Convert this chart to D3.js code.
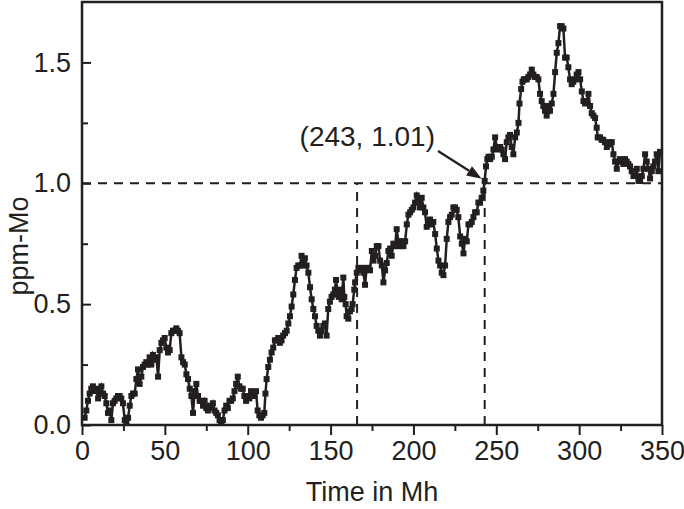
<!DOCTYPE html>
<html><head><meta charset="utf-8">
<script src="https://cdn.jsdelivr.net/npm/d3@7"></script>
<style>
body{margin:0;background:#fff}
svg{display:block}
text{font-family:"Liberation Sans",Arial,Helvetica,sans-serif;fill:#231f20}
</style></head>
<body><svg id="c" width="684" height="509"></svg>
<script>
// ---- data ----
const time = [1.6,2.6,3.6,4.6,5.6,6.6,7.6,8.6,9.7,10.7,11.7,12.7,13.7,14.7,15.7,16.7,17.7,18.7,19.7,20.7,21.7,22.7,23.7,24.7,25.8,26.8,27.8,28.8,29.8,30.8,31.8,32.8,33.8,34.8,35.8,36.8,37.8,38.8,39.8,40.8,41.8,42.8,43.9,44.9,45.9,46.9,47.9,48.9,49.9,50.9,51.9,52.9,53.9,54.9,55.9,56.9,
57.9,58.9,60,61,62,63,64,65,66,67,68,69,70,71,72,73,74,75,76,77,78,79,80,81,82,83,84,85,86,87,88,89,90,91,92,93,94,95,96,97,98,99,100,101,102,103,104,105,106,107,108,109,110,110.7,111.4,112.4,113.4,114.4,
115.4,116.4,117.4,118.4,119.4,120.4,121.4,122.5,123.5,124.5,125.5,126.5,127.5,128.5,129.5,130.5,131.5,132.5,133.5,134.5,135.5,136.6,137.6,138.6,139.6,140.6,141.6,142.6,143.6,144.6,145.6,146.6,147.6,148.6,149.6,150.6,151.6,152.6,153.3,154.3,155,155.7,156.7,157.7,158.3,159.1,159.7,160.7,161.7,162.7,163.3,164.3,164.8,
165.8,166.8,167.8,168.8,169.8,170.8,171.8,172.8,173.8,174.9,175.9,176.9,177.9,178.9,179.9,180.9,181.9,182.9,183.9,184.9,185.9,186.9,187.9,188.9,189.9,190.9,191.9,192.9,194,195,196,197,198,199,200,201,202,203,204,205,206,207,208,209,210,211,212,213.1,214.1,215.1,216.1,217.1,218.1,219.1,220.1,221.1,222.1,223.1,224.1,
225.1,226.1,227.1,228.2,229.2,230.2,231.2,232.2,233.2,234.2,235.2,236.2,237.2,238.2,239.2,240.2,241.2,242.2,243,243.8,244.6,245.3,246.3,247.3,248.3,249.3,250.3,251.3,252.3,253.3,254.3,255.3,256.3,257.3,258.3,259.3,260.3,261.4,262.4,263.4,264,265,265.8,266.6,267.4,268.4,269.4,270.4,271.4,272.4,273.4,
274.4,275.4,276.4,277.4,278.4,279.4,280.4,281.4,282.4,283.5,284.5,285.5,286.5,287.5,288.5,289.5,290.5,291.5,292.5,293.5,294.5,295.5,296.5,297.5,298.5,299.6,300.6,301.6,302.6,303.6,304.6,305.6,306.6,307.6,308.6,309.6,310.6,311.2,312.6,313.6,314.6,315.6,316.7,317.7,318.7,319.7,320.7,321.7,322.7,323.7,324.7,325.7,326.7,327.7,328.7,329.7,330.7,331.7,332.8,333.8,334.8,335.8,336.8,337.8,338.8,339.8,340.8,341.8,342.8,343.8,344.8,345.8,346.8,347.8,348.8];
const ppm = [0.03,0.06,0.10,0.13,0.15,0.16,0.14,0.15,0.11,0.14,0.16,0.13,0.12,0.09,0.05,0.06,0.02,0.09,0.10,0.11,0.12,0.12,0.11,0.09,0.02,0.01,0.03,0.08,0.12,0.13,0.13,0.19,0.23,0.17,0.20,0.24,0.25,0.26,0.25,0.28,0.25,0.29,0.27,0.28,0.20,0.31,0.34,0.35,0.36,0.32,0.30,0.31,0.38,0.39,0.39,0.40,
0.39,0.38,0.28,0.26,0.25,0.21,0.19,0.15,0.12,0.05,0.14,0.17,0.12,0.10,0.10,0.08,0.10,0.07,0.06,0.08,0.07,0.09,0.06,0.05,0.04,0.02,0.01,0.02,0.06,0.08,0.07,0.10,0.10,0.11,0.14,0.17,0.20,0.16,0.15,0.15,0.12,0.10,0.12,0.11,0.14,0.13,0.12,0.14,0.06,0.04,0.03,0.04,0.05,0.13,0.19,0.24,0.27,0.30,
0.32,0.35,0.35,0.36,0.34,0.35,0.37,0.38,0.39,0.42,0.45,0.49,0.54,0.60,0.65,0.66,0.66,0.70,0.66,0.69,0.66,0.63,0.57,0.52,0.48,0.45,0.41,0.39,0.37,0.39,0.41,0.42,0.37,0.48,0.51,0.53,0.54,0.56,0.60,0.54,0.53,0.56,0.52,0.61,0.53,0.50,0.45,0.44,0.47,0.48,0.50,0.56,0.59,
0.63,0.65,0.64,0.65,0.63,0.58,0.65,0.65,0.64,0.72,0.68,0.70,0.74,0.74,0.68,0.66,0.59,0.64,0.67,0.72,0.73,0.70,0.75,0.74,0.81,0.76,0.74,0.76,0.74,0.76,0.83,0.87,0.88,0.89,0.90,0.92,0.95,0.93,0.90,0.94,0.90,0.88,0.82,0.83,0.85,0.83,0.84,0.79,0.73,0.68,0.66,0.63,0.62,0.66,0.77,0.84,0.86,0.87,0.90,
0.90,0.89,0.86,0.78,0.75,0.71,0.77,0.76,0.83,0.83,0.84,0.86,0.88,0.88,0.92,0.92,0.94,0.97,1.01,1.07,1.10,1.11,1.10,1.11,1.14,1.19,1.15,1.14,1.15,1.14,1.12,1.10,1.17,1.19,1.20,1.15,1.12,1.19,1.21,1.25,1.33,1.39,1.42,1.43,1.43,1.43,1.44,1.45,1.47,1.45,1.44,
1.44,1.43,1.37,1.34,1.32,1.30,1.28,1.32,1.30,1.33,1.37,1.46,1.54,1.58,1.65,1.65,1.64,1.52,1.52,1.48,1.43,1.41,1.42,1.43,1.45,1.46,1.43,1.38,1.34,1.33,1.34,1.37,1.32,1.29,1.28,1.27,1.23,1.19,1.19,1.18,1.18,1.17,1.15,1.16,1.17,1.17,1.12,1.09,1.06,1.09,1.10,1.09,1.08,1.10,1.09,1.08,1.07,1.05,1.03,1.03,1.06,1.01,1.01,1.03,1.06,1.12,1.09,1.06,1.02,1.05,1.07,1.09,1.12,1.05,1.13];
const xTicks = [0,50,100,150,200,250,300,350];
const xMinorTicks = [25,75,125,175,225,275,325];
const yTicks = [0.0,0.5,1.0,1.5];
const yMinorTicks = [0.25,0.75,1.25];
const refLevel = 1.0;
const refTimes = [166,243];
const annotPoint = [243,1.01];
const annotLabel = "(243, 1.01)";
const xTitle = "Time in Mh";
const yTitle = "ppm-Mo";

// ---- drawing ----
const ink = "#231f20";
const svg = d3.select("#c");
const L=82,R=662,T=2,B=425;
const x = d3.scaleLinear().domain([0,350]).range([L,R]);
const y = d3.scaleLinear().domain([0,1.75]).range([B,T]);
const fs = 27;

// reference dashed lines
const dash="9,7";
svg.append("line").attr("x1",x(0)).attr("x2",x(350)).attr("y1",y(refLevel)).attr("y2",y(refLevel))
  .attr("stroke",ink).attr("stroke-width",2).attr("stroke-dasharray",dash);
refTimes.forEach(t=>{
  svg.append("line").attr("x1",x(t)).attr("x2",x(t)).attr("y1",y(0)).attr("y2",y(refLevel))
    .attr("stroke",ink).attr("stroke-width",2).attr("stroke-dasharray",dash);
});

// series
const pts = time.map((t,i)=>[t,ppm[i]]);
svg.append("path").datum(pts)
  .attr("d",d3.line().x(d=>x(d[0])).y(d=>y(d[1])))
  .attr("fill","none").attr("stroke",ink).attr("stroke-width",2.5);
const ms=6;
svg.append("g").selectAll("rect").data(pts).join("rect")
  .attr("x",d=>x(d[0])-ms/2).attr("y",d=>y(d[1])-ms/2)
  .attr("width",ms).attr("height",ms).attr("fill",ink);

// frame
svg.append("rect").attr("x",L).attr("y",T).attr("width",R-L).attr("height",B-T)
  .attr("fill","none").attr("stroke",ink).attr("stroke-width",2.5);

// x axis
svg.append("g").attr("transform",`translate(0,${B})`)
  .call(d3.axisBottom(x).tickValues(xTicks).tickSize(10).tickPadding(6).tickFormat(d3.format("d")));
svg.append("g").attr("transform",`translate(0,${B})`)
  .call(d3.axisBottom(x).tickValues(xMinorTicks).tickSize(6).tickFormat(""));
// y axis (ticks inward)
svg.append("g").attr("transform",`translate(${L},0)`)
  .call(d3.axisLeft(y).tickValues(yTicks).tickSize(-9).tickPadding(11).tickFormat(d3.format(".1f")));
svg.append("g").attr("transform",`translate(${L},0)`)
  .call(d3.axisLeft(y).tickValues(yMinorTicks).tickSize(-6).tickFormat(""));
svg.selectAll(".domain").remove();
svg.selectAll(".tick line").attr("stroke",ink).attr("stroke-width",2);
svg.selectAll(".tick text").attr("font-size",fs).attr("fill",ink)
  .style("font-family",'"Liberation Sans",Arial,sans-serif');

// titles
svg.append("text").attr("x",(L+R)/2).attr("y",501).attr("text-anchor","middle")
  .attr("font-size",fs).text(xTitle);
svg.append("text").attr("transform",`translate(28,246) rotate(-90)`).attr("text-anchor","middle")
  .attr("font-size",fs).text(yTitle);

// annotation
svg.append("text").attr("x",435).attr("y",146).attr("text-anchor","end")
  .attr("font-size",28).text(annotLabel);
const tip=[x(annotPoint[0])-3, y(annotPoint[1])-2];
const start=[438,151];
const ang=Math.atan2(tip[1]-start[1],tip[0]-start[0]);
const hl=15, hw=5.5;
const base=[tip[0]-hl*Math.cos(ang), tip[1]-hl*Math.sin(ang)];
svg.append("line").attr("x1",start[0]).attr("y1",start[1]).attr("x2",base[0]).attr("y2",base[1])
  .attr("stroke",ink).attr("stroke-width",2.2);
svg.append("path").attr("d",d3.line()([
  tip,
  [base[0]+hw*Math.sin(ang), base[1]-hw*Math.cos(ang)],
  [base[0]-hw*Math.sin(ang), base[1]+hw*Math.cos(ang)]
])+"Z").attr("fill",ink);
</script></body></html>
